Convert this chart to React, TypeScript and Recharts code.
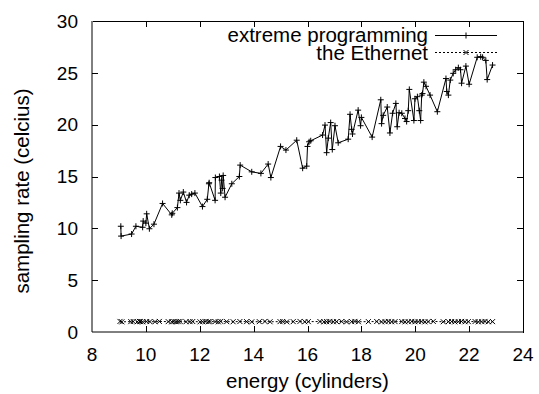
import React from 'react';
import { ScatterChart, Scatter, XAxis, YAxis } from 'recharts';

// extreme programming
const xpX = [9.07, 9.08, 9.47, 9.63, 9.88, 9.9, 10.0, 10.03, 10.13, 10.3, 10.62, 10.96, 10.98, 11.17, 11.23, 11.28, 11.39, 11.51, 11.61, 11.7, 11.82, 12.1, 12.28, 12.34, 12.35, 12.57, 12.58, 12.73, 12.78, 12.81, 12.85, 12.87, 12.94, 13.19, 13.47, 13.5, 13.93, 14.27, 14.54, 14.64, 15.0, 15.2, 15.6, 15.82, 15.97, 16.0, 16.06, 16.12, 16.56, 16.65, 16.71, 16.77, 16.86, 16.92, 17.02, 17.14, 17.51, 17.58, 17.64, 17.67, 17.88, 17.97, 18.0, 18.4, 18.72, 18.75, 18.81, 18.96, 19.06, 19.16, 19.28, 19.33, 19.4, 19.5, 19.62, 19.68, 19.74, 19.78, 19.95, 19.99, 20.08, 20.15, 20.2, 20.24, 20.27, 20.32, 20.4, 20.55, 20.82, 21.14, 21.17, 21.23, 21.3, 21.41, 21.5, 21.6, 21.68, 21.72, 21.88, 22.0, 22.3, 22.43, 22.5, 22.62, 22.67, 22.87];
const xpY = [10.2, 9.25, 9.45, 10.2, 10.1, 10.7, 10.5, 11.4, 9.96, 10.4, 12.4, 11.3, 11.45, 12.0, 13.4, 12.7, 13.5, 12.5, 13.2, 13.3, 13.4, 12.1, 12.8, 14.3, 14.4, 12.7, 14.9, 15.0, 13.4, 14.65, 13.85, 15.1, 13.0, 14.3, 15.0, 16.1, 15.45, 15.3, 16.2, 14.9, 17.9, 17.55, 18.5, 15.8, 16.0, 17.9, 18.35, 18.45, 19.0, 19.96, 17.3, 18.7, 20.2, 17.6, 19.9, 18.25, 18.6, 21.0, 19.55, 19.1, 21.4, 19.9, 20.7, 18.8, 22.4, 20.1, 20.9, 21.7, 19.2, 21.1, 22.05, 19.8, 21.15, 21.1, 20.6, 20.3, 21.35, 23.4, 20.4, 22.5, 22.7, 21.35, 20.4, 22.85, 23.0, 24.1, 23.7, 22.85, 21.25, 24.45, 23.2, 22.85, 24.3, 24.95, 25.3, 25.5, 25.3, 24.0, 25.65, 23.9, 26.5, 26.55, 26.5, 26.2, 24.35, 25.75];

// the Ethernet
const ethX = [9.04, 9.11, 9.44, 9.53, 9.68, 9.76, 9.8, 9.88, 10.03, 10.15, 10.34, 10.5, 10.83, 10.96, 11.04, 11.12, 11.2, 11.27, 11.49, 11.64, 11.74, 12.01, 12.11, 12.23, 12.32, 12.38, 12.57, 12.69, 12.78, 13.0, 13.24, 13.49, 13.74, 13.93, 14.21, 14.42, 14.61, 14.98, 15.08, 15.23, 15.47, 15.72, 15.9, 16.03, 16.46, 16.61, 16.71, 16.83, 16.96, 17.08, 17.27, 17.45, 17.64, 17.76, 17.89, 18.26, 18.57, 18.75, 18.88, 19.0, 19.12, 19.25, 19.5, 19.62, 19.74, 19.87, 19.99, 20.11, 20.24, 20.36, 20.48, 20.67, 21.04, 21.23, 21.35, 21.47, 21.6, 21.72, 21.85, 21.97, 22.22, 22.34, 22.47, 22.59, 22.71, 22.87];
const ethY = [1.02, 0.98, 1.0, 1.01, 0.99, 1.02, 1.0, 0.98, 1.01, 1.0, 0.99, 1.02, 1.0, 0.98, 1.01, 0.99, 1.0, 1.02, 0.99, 1.0, 1.01, 0.98, 1.0, 1.02, 0.99, 1.01, 1.0, 0.98, 1.02, 1.0, 0.99, 1.01, 1.0, 0.98, 1.0, 1.02, 0.99, 1.0, 1.01, 0.98, 1.0, 1.02, 0.99, 1.0, 1.01, 0.98, 1.0, 1.02, 0.99, 1.0, 1.01, 0.98, 1.0, 1.02, 0.99, 1.0, 1.01, 0.98, 1.0, 1.02, 0.99, 1.0, 1.01, 0.98, 1.0, 1.02, 0.99, 1.0, 1.01, 0.98, 1.0, 1.02, 0.99, 1.0, 1.01, 0.98, 1.0, 1.02, 0.99, 1.0, 1.01, 0.98, 1.0, 1.02, 0.99, 1.0];

const xTicks = [8, 10, 12, 14, 16, 18, 20, 22, 24];
const yTicks = [0, 5, 10, 15, 20, 25, 30];

const xpData = xpX.map((x, i) => ({ x, y: xpY[i] }));
const ethData = ethX.map((x, i) => ({ x, y: ethY[i] }));

const FONT = 'Liberation Sans, Arial, Helvetica, sans-serif';
const FS = 19; // tick labels
const TS = 20.5; // titles and key

// plot box, from the chart margins and axis sizes
const W = 539;
const H = 394;
const M = { top: 21, right: 16, bottom: 0, left: 0 };
const Y_AXIS_W = 92;
const X_AXIS_H = 62;
const TOP = M.top;
const BOTTOM = H - M.bottom - X_AXIS_H;
const LEFT = M.left + Y_AXIS_W;
const RIGHT = W - M.right;
const X_DOM = [xTicks[0], xTicks[xTicks.length - 1]];
const Y_DOM = [yTicks[0], yTicks[yTicks.length - 1]];

const Plus = (props: any) => {
  const { cx, cy } = props;
  if (cx == null || cy == null) return null;
  return <path d={`M${cx - 3},${cy}H${cx + 3}M${cx},${cy - 3}V${cy + 3}`} stroke="#000" strokeWidth={1} fill="none" />;
};

const Cross = (props: any) => {
  const { cx, cy } = props;
  if (cx == null || cy == null) return null;
  return (
    <path
      d={`M${cx - 2.5},${cy - 2.5}L${cx + 2.5},${cy + 2.5}M${cx - 2.5},${cy + 2.5}L${cx + 2.5},${cy - 2.5}`}
      stroke="#000"
      strokeWidth={1}
      fill="none"
    />
  );
};

const YTitle = () => (
  <text x={22} y={191} transform="rotate(-90 22 191)" textAnchor="middle" dy="0.355em" fontSize={TS} fontFamily={FONT} fill="#000">
    sampling rate (celcius)
  </text>
);

// gnuplot border with inward ticks on all four sides, plus the key
const Overlay = () => {
  const px = (v: number) => LEFT + ((v - X_DOM[0]) / (X_DOM[1] - X_DOM[0])) * (RIGHT - LEFT);
  const py = (v: number) => BOTTOM - ((v - Y_DOM[0]) / (Y_DOM[1] - Y_DOM[0])) * (BOTTOM - TOP);
  const inner = (a: number[]) => a.slice(1, -1);
  const d: string[] = [];
  inner(xTicks).forEach((t) => {
    const x = Math.round(px(t)) + 0.5;
    d.push(`M${x},${BOTTOM}V${BOTTOM - 6}M${x},${TOP}V${TOP + 6}`);
  });
  inner(yTicks).forEach((t) => {
    const y = Math.round(py(t)) + 0.5;
    d.push(`M${LEFT},${y}H${LEFT + 6}M${RIGHT},${y}H${RIGHT - 6}`);
  });
  return (
    <svg width={W} height={H} style={{ position: 'absolute', left: 0, top: 0, pointerEvents: 'none' }}>
      <path
        d={`M${LEFT + 0.5},${TOP + 0.5}H${RIGHT + 0.5}V${BOTTOM + 0.5}`}
        stroke="#000"
        strokeWidth={1.2}
        fill="none"
        shapeRendering="crispEdges"
      />
      <path d={d.join('')} stroke="#000" strokeWidth={1} fill="none" shapeRendering="crispEdges" />
      <text x={428} y={42} textAnchor="end" fontSize={TS} fontFamily={FONT} fill="#000">
        extreme programming
      </text>
      <line x1={435} x2={497} y1={35.5} y2={35.5} stroke="#000" strokeWidth={1} />
      <path d="M463,35.5H469M466,32.5V38.5" stroke="#000" strokeWidth={1} />
      <text x={428} y={60} textAnchor="end" fontSize={TS} fontFamily={FONT} fill="#000">
        the Ethernet
      </text>
      <line x1={435} x2={497} y1={52.5} y2={52.5} stroke="#000" strokeWidth={1} strokeDasharray="2 2" />
      <path d="M463.5,50L468.5,55M463.5,55L468.5,50" stroke="#000" strokeWidth={1} />
    </svg>
  );
};

export default function App() {
  return (
    <div style={{ position: 'relative', width: W, height: H, background: '#fff', fontFamily: FONT }}>
      <style>{`body{margin:0}`}</style>
      <ScatterChart width={W} height={H} margin={M}>
        <XAxis
          type="number"
          dataKey="x"
          domain={X_DOM}
          ticks={xTicks}
          allowDataOverflow
          tickLine={false}
          tickSize={0}
          tickMargin={16}
          height={X_AXIS_H}
          stroke="#000"
          tick={{ fill: '#000', fontSize: FS, fontFamily: FONT }}
          label={{ value: 'energy (cylinders)', position: 'insideBottom', offset: 6, fill: '#000', fontSize: TS, fontFamily: FONT }}
        />
        <YAxis
          type="number"
          dataKey="y"
          domain={Y_DOM}
          ticks={yTicks}
          allowDataOverflow
          tickLine={false}
          tickSize={0}
          tickMargin={14}
          width={Y_AXIS_W}
          stroke="#000"
          tick={{ fill: '#000', fontSize: FS, fontFamily: FONT }}
          label={<YTitle />}
        />
        <Scatter
          name="extreme programming"
          data={xpData}
          line={{ stroke: '#000', strokeWidth: 1 }}
          lineType="joint"
          shape={<Plus />}
          isAnimationActive={false}
        />
        <Scatter
          name="the Ethernet"
          data={ethData}
          line={{ stroke: '#000', strokeWidth: 1, strokeDasharray: '2 2' }}
          lineType="joint"
          shape={<Cross />}
          isAnimationActive={false}
        />
      </ScatterChart>
      <Overlay />
    </div>
  );
}
